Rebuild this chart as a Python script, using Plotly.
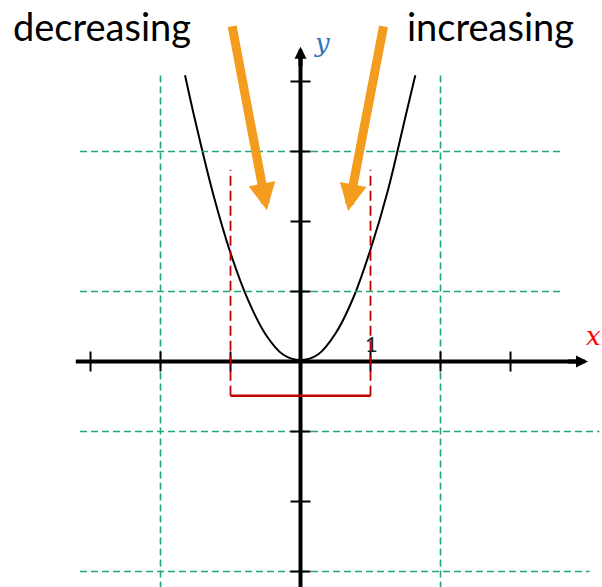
import plotly.graph_objects as go

# curve samples
curve_x = [-1.65, -1.5, -1.25, -1.0, -0.75, -0.5, -0.25, 0.0, 0.25, 0.5, 0.75, 1.0, 1.25, 1.5, 1.64]
curve_y = [4.09, 3.42, 2.40, 1.55, 0.88, 0.39, 0.10, 0.02, 0.10, 0.40, 0.90, 1.60, 2.45, 3.50, 4.09]

x_ticks = [-3, -2, -1, 1, 2, 3]
y_ticks = [-3, -2, -1, 1, 2, 3, 4]
grid_v = [-2, 2]
grid_h = [3, 1, -1, -3]
grid_h_right = [3.74, 3.74, 4.27, 4.13]
interval = [-1, 1]
interval_top = 2.74
interval_bottom = -0.49

arrow_dec = dict(start=(-0.98, 4.81), end=(-0.48, 2.16))
arrow_inc = dict(start=(1.19, 4.81), end=(0.68, 2.15))

X_RANGE = [-4.293, 4.307]
Y_RANGE = [-3.221, 5.164]

GREEN = "#22a57c"
RED = "#c00000"
ORANGE = "#f39c1e"

fig = go.Figure()
shapes = []

# green dashed grid
for gx in grid_v:
    shapes.append(dict(type="line", x0=gx, x1=gx, y0=-3.4, y1=4.14, xref="x", yref="y",
                       line=dict(color=GREEN, width=1.6, dash="7px,4px")))
for gy, xr in zip(grid_h, grid_h_right):
    shapes.append(dict(type="line", x0=-3.15, x1=xr, y0=gy, y1=gy, xref="x", yref="y",
                       line=dict(color=GREEN, width=1.6, dash="7px,4px")))

# axis lines
shapes.append(dict(type="line", x0=-3.21, x1=4.0, y0=0, y1=0, line=dict(color="black", width=4)))
shapes.append(dict(type="line", x0=0, x1=0, y0=-3.4, y1=4.35, line=dict(color="black", width=4)))

# ticks
tl = 10 / 70
for tx in x_ticks:
    shapes.append(dict(type="line", x0=tx, x1=tx, y0=-tl, y1=tl, line=dict(color="black", width=2)))
for ty in y_ticks:
    shapes.append(dict(type="line", x0=-tl, x1=tl, y0=ty, y1=ty, line=dict(color="black", width=2)))

# red interval
for ix in interval:
    shapes.append(dict(type="line", x0=ix, x1=ix, y0=interval_bottom, y1=interval_top,
                       line=dict(color=RED, width=1.8, dash="10px,5px")))
shapes.append(dict(type="line", x0=interval[0], x1=interval[1], y0=interval_bottom, y1=interval_bottom,
                   line=dict(color=RED, width=2.5)))

fig.add_trace(go.Scatter(x=curve_x, y=curve_y, mode="lines", line=dict(color="black", width=2, shape="spline"),
                         hoverinfo="skip", showlegend=False))

annotations = []
# axis arrowheads
annotations.append(dict(x=4.107, y=0, ax=3.8, ay=0, axref="x", ayref="y", xref="x", yref="y", text="",
                        showarrow=True, arrowhead=2, arrowwidth=4, arrowsize=0.6, arrowcolor="black"))
annotations.append(dict(x=0, y=4.497, ax=0, ay=4.2, axref="x", ayref="y", xref="x", yref="y", text="",
                        showarrow=True, arrowhead=2, arrowwidth=4, arrowsize=0.6, arrowcolor="black"))
# orange arrows
for a in (arrow_dec, arrow_inc):
    annotations.append(dict(x=a["end"][0], y=a["end"][1], ax=a["start"][0], ay=a["start"][1],
                            axref="x", ayref="y", xref="x", yref="y", text="",
                            showarrow=True, arrowhead=2, arrowwidth=9, arrowsize=0.6, arrowcolor=ORANGE))
# texts
annotations.append(dict(x=-2.836, y=4.79, xref="x", yref="y", text="decreasing", showarrow=False,
                        font=dict(family="Lato", size=38, color="black")))
annotations.append(dict(x=2.72, y=4.79, xref="x", yref="y", text="increasing", showarrow=False,
                        font=dict(family="Lato", size=38, color="black")))
annotations.append(dict(x=1.016, y=0.26, xref="x", yref="y", text="1", showarrow=False,
                        font=dict(family="Lato", size=22, color="#222222")))
annotations.append(dict(x=0.30, y=4.55, xref="x", yref="y", text="<i>y</i>", showarrow=False,
                        font=dict(family="DejaVu Serif", size=26, color="#2e75b6")))
annotations.append(dict(x=4.19, y=0.37, xref="x", yref="y", text="<i>x</i>", showarrow=False,
                        font=dict(family="DejaVu Serif", size=26, color="#ff0000")))

fig.update_layout(
    width=602, height=587,
    margin=dict(l=0, r=0, t=0, b=0),
    paper_bgcolor="white", plot_bgcolor="white",
    xaxis=dict(range=X_RANGE, visible=False, fixedrange=True),
    yaxis=dict(range=Y_RANGE, visible=False, fixedrange=True),
    shapes=shapes,
    annotations=annotations,
    showlegend=False,
)

fig.write_html("out.html", config={"displayModeBar": False},
               post_script="document.body.style.margin='0px';document.body.style.overflow='hidden';")
